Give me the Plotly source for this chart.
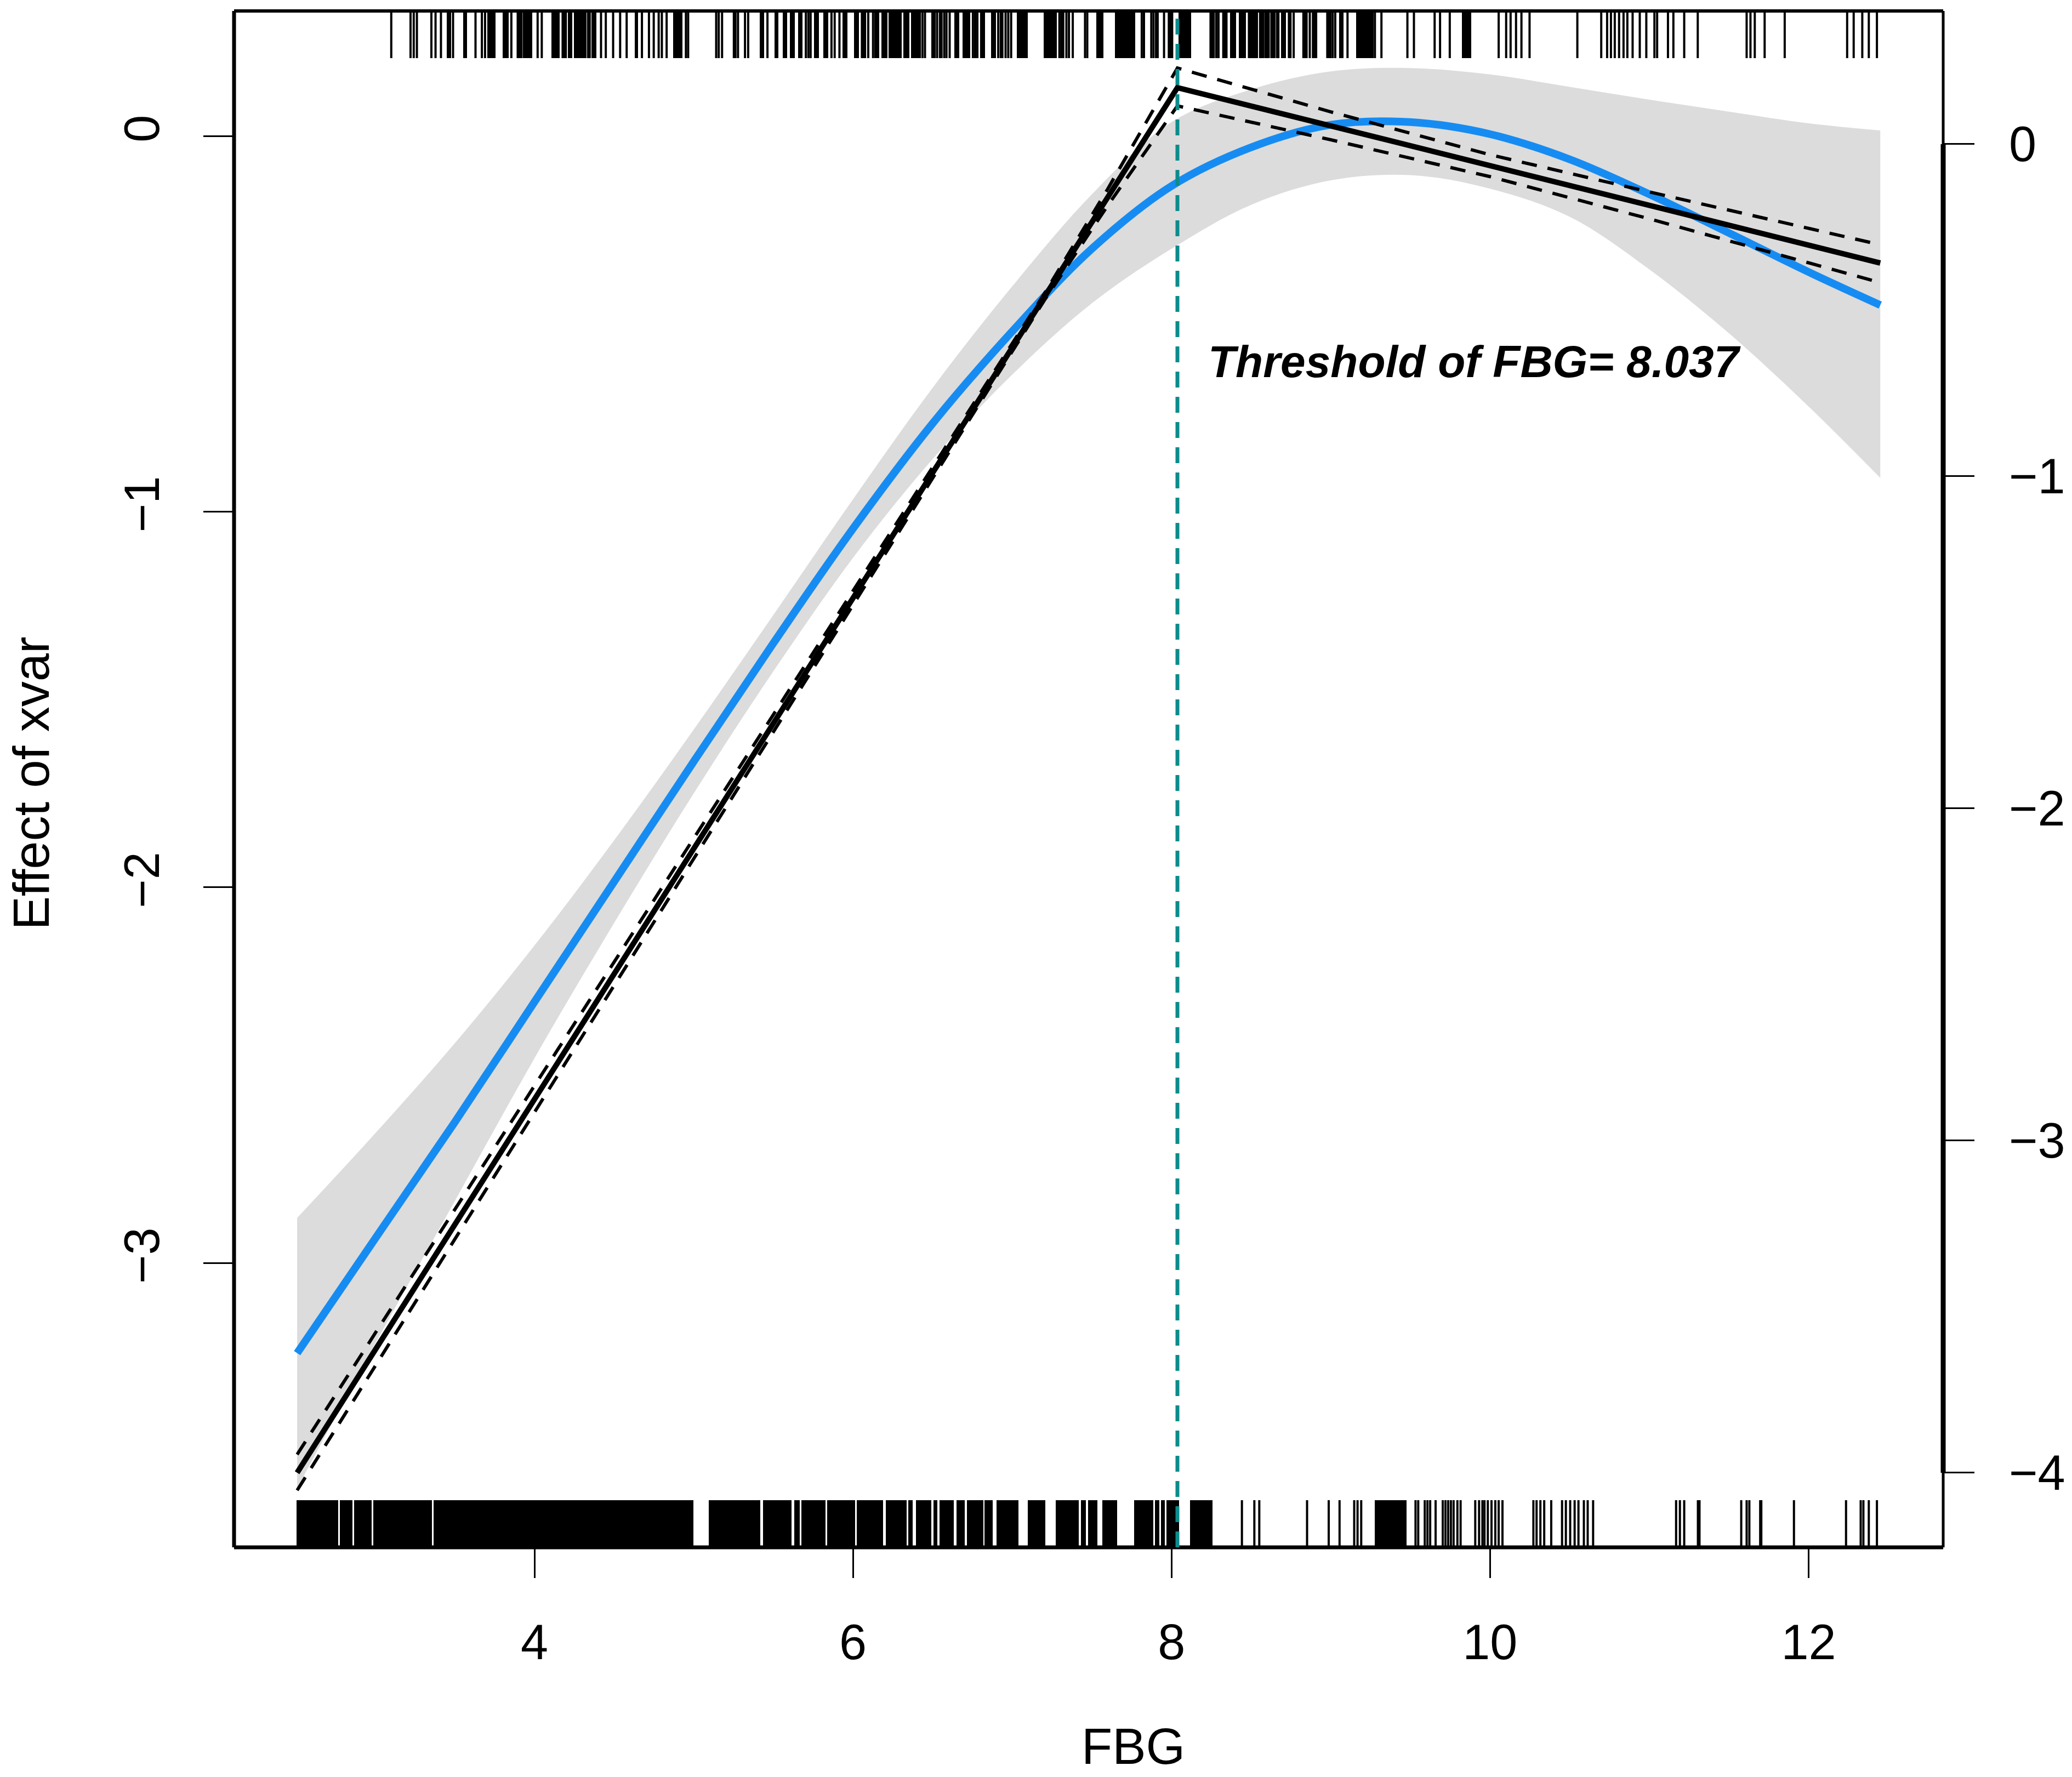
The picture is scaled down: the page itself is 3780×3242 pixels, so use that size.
import plotly.graph_objects as go

# ---------------- data ----------------
# smooth fit (left axis) and its confidence band
fit_x = [2.51, 3.0, 3.5, 4.0, 4.5, 5.0, 5.5, 6.0, 6.5, 7.0, 7.5, 8.0, 8.5, 9.0, 9.5,
         10.0, 10.5, 11.0, 11.5, 12.0, 12.45]
fit_y = [-3.24, -2.935, -2.625, -2.305, -1.985, -1.665, -1.35, -1.045, -0.765, -0.52,
         -0.30, -0.133, -0.03, 0.030, 0.037, 0.005, -0.062, -0.155, -0.258, -0.362, -0.45]
ci_upper = [-2.88, -2.655, -2.415, -2.155, -1.875, -1.58, -1.275, -0.967, -0.67, -0.40,
            -0.155, 0.037, 0.124, 0.172, 0.181, 0.164, 0.131, 0.097, 0.065, 0.034, 0.015]
ci_lower = [-3.60, -3.215, -2.835, -2.455, -2.095, -1.75, -1.425, -1.123, -0.86, -0.635,
            -0.445, -0.30, -0.183, -0.118, -0.104, -0.14, -0.215, -0.355, -0.525, -0.72, -0.91]

# segmented (threshold) regression (right axis)
threshold = 8.037
seg_x = [2.51, 8.037, 12.45]
seg_y = [-4.0, 0.170, -0.358]
seg_ci_x = [2.51, 4.0, 5.5, 6.5, 7.2, 7.6, 8.037, 9.0, 10.0, 11.0, 12.45]
seg_ci_upper = [-3.945, -2.836, -1.716, -0.9715, -0.4514, -0.1346, 0.229, 0.097, -0.032, -0.144, -0.303]
seg_ci_lower = [-4.053, -2.916, -1.772, -1.0075, -0.4714, -0.1846, 0.115, 0.013, -0.098, -0.225, -0.417]

# rugs: isolated ticks and dense runs (start, end)
top_rug_ticks = [3.101, 3.222, 3.242, 3.262, 3.353, 3.379, 3.413, 3.489, 3.630, 3.670, 3.690,
                 3.855, 3.895, 3.907, 3.919, 4.020, 4.046, 4.177, 4.187, 4.197, 4.337, 4.347,
                 4.418, 4.448, 4.494, 4.538, 4.579, 4.675, 4.719, 4.749, 4.780, 4.800, 4.830,
                 4.951, 4.965, 5.141, 5.157, 5.178, 5.252, 5.262, 5.278, 5.322, 5.342, 5.463,
                 5.704, 5.720, 5.734, 5.865, 5.885, 5.915, 6.056, 6.066, 6.076, 6.096, 6.126,
                 6.436, 6.452, 6.528, 6.546, 6.556, 6.573, 6.587, 6.607, 6.753, 6.767, 6.781,
                 6.912, 6.928, 6.938, 6.958, 6.975, 6.993, 7.296, 7.308, 7.320, 7.340, 7.356,
                 7.380, 7.457, 7.471, 7.813, 7.827, 7.873, 7.887, 7.903, 7.913, 7.953, 7.983,
                 7.994, 8.004, 8.245, 8.255, 8.265, 8.281, 8.295, 8.325, 8.335, 8.345, 8.486,
                 8.496, 8.506, 8.516, 8.526, 8.536, 8.556, 8.566, 8.576, 8.590, 8.600, 8.610,
                 8.627, 8.637, 8.647, 8.663, 8.671, 8.737, 8.747, 8.767, 8.828, 8.838, 8.848,
                 8.868, 8.888, 8.898, 8.908, 8.978, 8.988, 8.998, 9.012, 9.028, 9.059, 9.073,
                 9.105, 9.277, 9.318, 9.481, 9.522, 9.652, 9.686, 9.747, 10.054, 10.101,
                 10.129, 10.163, 10.197, 10.248, 10.548, 10.698, 10.735, 10.759, 10.783,
                 10.810, 10.838, 10.862, 10.895, 10.940, 10.981, 11.032, 11.049, 11.117,
                 11.151, 11.219, 11.304, 11.611, 11.635, 11.662, 11.724, 11.850, 12.242,
                 12.283, 12.337, 12.378, 12.429]
top_rug_runs = [(3.449, 3.477), (3.553, 3.578), (3.704, 3.755), (3.799, 3.839), (3.929, 3.986),
                (4.106, 4.157), (4.211, 4.237), (4.247, 4.327), (4.358, 4.388), (4.629, 4.649),
                (4.870, 4.930), (5.413, 5.443), (5.507, 5.533), (5.559, 5.588), (5.604, 5.634),
                (5.654, 5.684), (5.754, 5.785), (5.815, 5.845), (5.935, 5.966), (6.006, 6.036),
                (6.134, 6.164), (6.178, 6.215), (6.225, 6.305), (6.315, 6.355), (6.366, 6.426),
                (6.492, 6.520), (6.637, 6.667), (6.687, 6.737), (6.798, 6.828), (6.868, 6.898),
                (7.029, 7.099), (7.196, 7.280), (7.527, 7.571), (7.646, 7.772), (8.044, 8.124),
                (8.369, 8.405), (8.422, 8.466), (8.687, 8.717), (9.159, 9.270), (9.822, 9.883)]

bottom_rug_ticks = [8.442, 8.520, 8.551, 8.851, 8.987, 9.055, 9.147, 9.168, 9.191, 9.532, 9.549,
                    9.590, 9.607, 9.624, 9.658, 9.703, 9.720, 9.737, 9.754, 9.771, 9.795, 9.815,
                    9.907, 9.931, 9.952, 9.965, 9.986, 10.009, 10.033, 10.054, 10.078, 10.272,
                    10.292, 10.316, 10.340, 10.384, 10.452, 10.476, 10.503, 10.531, 10.555,
                    10.589, 10.613, 10.647, 11.168, 11.192, 11.219, 11.305, 11.315, 11.577,
                    11.611, 11.628, 11.696, 11.703, 11.908, 12.235, 12.327, 12.344, 12.378,
                    12.429]
bottom_rug_runs = [(2.507, 2.768), (2.778, 2.856), (2.866, 2.977), (2.987, 3.358), (3.368, 4.997),
                   (5.094, 5.419), (5.434, 5.615), (5.631, 5.665), (5.675, 5.827), (5.838, 6.015),
                   (6.025, 6.188), (6.207, 6.336), (6.348, 6.375), (6.394, 6.492), (6.505, 6.530),
                   (6.544, 6.634), (6.650, 6.703), (6.717, 6.819), (6.826, 6.876), (6.900, 7.038),
                   (7.096, 7.207), (7.274, 7.419), (7.432, 7.461), (7.476, 7.534), (7.567, 7.659),
                   (7.765, 7.884), (7.895, 7.922), (7.934, 7.957), (7.967, 8.049), (8.115, 8.259),
                   (9.277, 9.474)]

x_ticks = [4, 6, 8, 10, 12]
y_left_ticks = [-3, -2, -1, 0]
y_right_ticks = [-4, -3, -2, -1, 0]
x_title = "FBG"
y_title = "Effect of xvar"
label_text = "Threshold of FBG= 8.037"

# ---------------- styling ----------------
FONT = "Liberation Sans"
BLUE = "#168CF2"
BAND = "#DCDCDC"
TEAL = "#0C8C8C"
RUG_H = 0.0307
W, H = 3780, 3242
ML, MR, MT, MB = 427, 224, 20, 419


def fmt(v):
    return "\u2212" + str(-v) if v < 0 else str(v)


fig = go.Figure()

# confidence band of the smooth fit
fig.add_trace(go.Scatter(x=fit_x, y=ci_lower, mode="lines",
                         line=dict(width=0, shape="spline", smoothing=1.0),
                         hoverinfo="skip", showlegend=False, yaxis="y"))
fig.add_trace(go.Scatter(x=fit_x, y=ci_upper, mode="lines",
                         line=dict(width=0, shape="spline", smoothing=1.0),
                         fill="tonexty", fillcolor=BAND, hoverinfo="skip", showlegend=False,
                         yaxis="y"))
# smooth fit
fig.add_trace(go.Scatter(x=fit_x, y=fit_y, mode="lines",
                         line=dict(color=BLUE, width=14, shape="spline", smoothing=1.0),
                         showlegend=False, yaxis="y"))

# segmented fit on the right axis
for ys in (seg_ci_upper, seg_ci_lower):
    fig.add_trace(go.Scatter(x=seg_ci_x, y=ys, mode="lines",
                             line=dict(color="black", width=6, dash="28px,20px"),
                             showlegend=False, yaxis="y2"))
fig.add_trace(go.Scatter(x=seg_x, y=seg_y, mode="lines", line=dict(color="black", width=10),
                         showlegend=False, yaxis="y2"))


def rug_lines(vals, y0, y1):
    xs, ys = [], []
    for v in vals:
        xs += [v, v, None]
        ys += [y0, y1, None]
    return xs, ys


def rug_bars(runs, base):
    return go.Bar(x=[(a + b) / 2 for a, b in runs], width=[b - a for a, b in runs],
                  y=[RUG_H] * len(runs), base=[base] * len(runs),
                  marker=dict(color="black", line=dict(width=0)),
                  showlegend=False, hoverinfo="skip", yaxis="y3")


fig.add_trace(rug_bars(bottom_rug_runs, 0.0))
fig.add_trace(rug_bars(top_rug_runs, 1.0 - RUG_H))
bx, by = rug_lines(bottom_rug_ticks, 0.0, RUG_H)
fig.add_trace(go.Scatter(x=bx, y=by, mode="lines", line=dict(color="black", width=4),
                         showlegend=False, hoverinfo="skip", yaxis="y3"))
tx, ty = rug_lines(top_rug_ticks, 1.0 - RUG_H, 1.0)
fig.add_trace(go.Scatter(x=tx, y=ty, mode="lines", line=dict(color="black", width=4),
                         showlegend=False, hoverinfo="skip", yaxis="y3"))

tickfont = dict(family=FONT, size=90, color="black")
fig.update_layout(
    width=W, height=H,
    margin=dict(l=ML, r=MR, t=MT, b=MB, pad=0),
    paper_bgcolor="white", plot_bgcolor="white",
    barmode="overlay", bargap=0,
    showlegend=False,
    xaxis=dict(range=[2.114, 12.845], tickvals=x_ticks, ticktext=[str(v) for v in x_ticks],
               ticks="outside", ticklen=55, tickwidth=3, tickcolor="black",
               showgrid=False, zeroline=False, showline=False, tickfont=tickfont,
               ticklabelstandoff=40),
    yaxis=dict(range=[-3.757, 0.333], tickvals=y_left_ticks,
               ticktext=[fmt(v) for v in y_left_ticks],
               ticks="outside", ticklen=55, tickwidth=3, tickcolor="black", tickangle=-90,
               showgrid=False, zeroline=False, showline=False, tickfont=tickfont,
               ticklabelstandoff=45),
    yaxis2=dict(range=[-4.2246, 0.4008], tickvals=y_right_ticks,
                ticktext=[fmt(v) for v in y_right_ticks],
                overlaying="y", side="right", anchor="x",
                ticks="outside", ticklen=56, tickwidth=3, tickcolor="black",
                showgrid=False, zeroline=False, showline=False, tickfont=tickfont,
                ticklabelstandoff=45),
    yaxis3=dict(range=[0, 1], overlaying="y", anchor="x", visible=False, fixedrange=True),
)

# frame
fig.add_shape(type="line", xref="paper", yref="paper", x0=0, x1=1, y0=1, y1=1,
              line=dict(color="black", width=6), layer="above")
fig.add_shape(type="line", xref="paper", yref="paper", x0=0, x1=1, y0=0, y1=0,
              line=dict(color="black", width=7), layer="above")
fig.add_shape(type="line", xref="paper", yref="paper", x0=0, x1=0, y0=0, y1=1,
              line=dict(color="black", width=7), layer="above")
fig.add_shape(type="line", xref="paper", yref="paper", x0=1, x1=1, y0=0, y1=1,
              line=dict(color="black", width=5), layer="above")
fig.add_shape(type="line", xref="paper", yref="y2", x0=1, x1=1,
              y0=min(y_right_ticks), y1=max(y_right_ticks),
              line=dict(color="black", width=9), layer="above")

# threshold line
fig.add_shape(type="line", xref="x", yref="paper", x0=threshold, x1=threshold, y0=0, y1=1,
              line=dict(color=TEAL, width=7, dash="29px,17px"), layer="above")

fig.add_annotation(x=8.224, y=-0.60, xref="x", yref="y", xanchor="left", yanchor="middle",
                   text="<b><i>" + label_text + "</i></b>", showarrow=False,
                   font=dict(family=FONT, size=82, color="black"))

# axis titles (kept just inside the page edges)
fig.add_annotation(x=0.526, y=-0.1484, xref="paper", yref="paper", xanchor="center",
                   yanchor="bottom", text=x_title, showarrow=False,
                   font=dict(family=FONT, size=92, color="black"))
fig.add_annotation(x=-0.1355, y=0.4973, xref="paper", yref="paper", xanchor="left",
                   yanchor="middle", text=y_title, showarrow=False, textangle=-90,
                   font=dict(family=FONT, size=92, color="black"))

fig.write_html("out.html", config={"displayModeBar": False},
               post_script="document.body.style.margin='0';")
